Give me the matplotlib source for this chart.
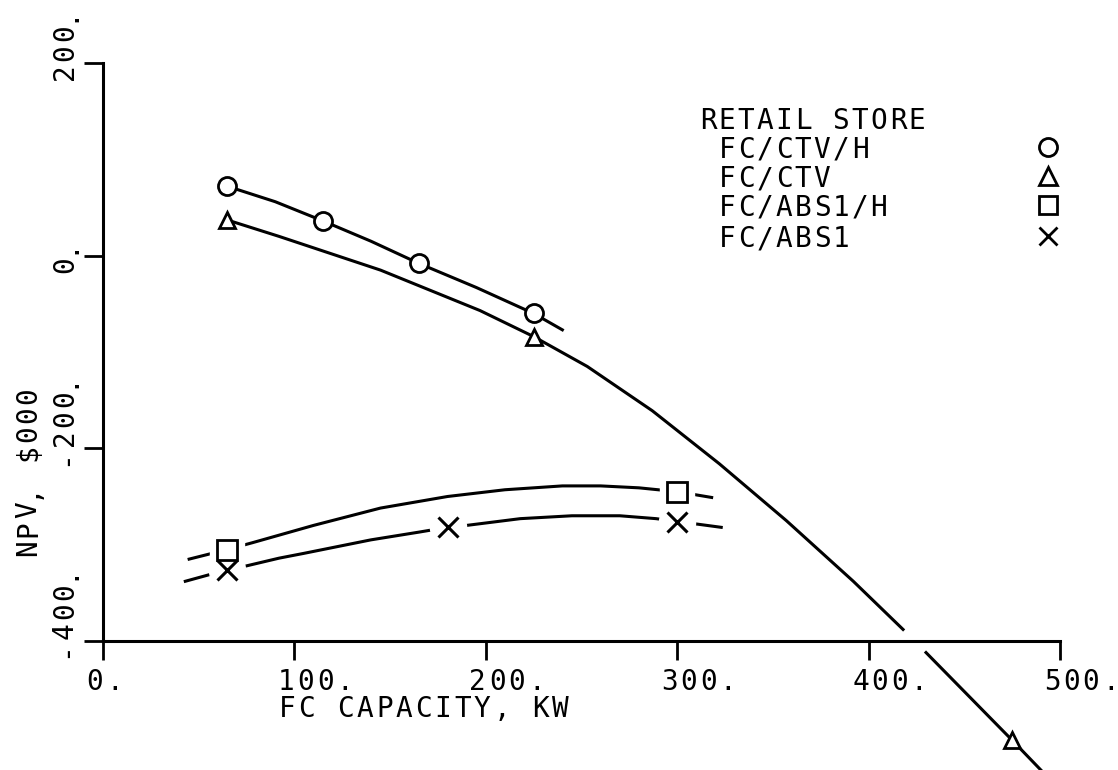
"""
Net present value vs fuel cell capacity, retail store cases
"""
import numpy as np
import matplotlib
matplotlib.use('Agg')
import matplotlib.pyplot as plt

# Plotted points for each system
kw_ctv_h = [65, 115, 165, 225]
npv_ctv_h = [72, 36, -8, -60]

kw_ctv = [65, 225, 475]
npv_ctv = [37, -84, -503]

kw_abs_h = [65, 300]
npv_abs_h = [-306, -245]

kw_abs = [65, 180, 300]
npv_abs = [-326, -282, -276]

# Faired curves through the points
fit_ctv_h_kw = [65, 90, 115, 140, 165, 195, 225, 240]
fit_ctv_h_npv = [72, 56, 36, 15, -8, -33, -60, -77]

fit_ctv_kw = [65, 92, 145, 197, 225, 253, 287, 322, 357, 392, 418, 430, 475, 491]
fit_ctv_npv = [37, 20, -15, -57, -84, -115, -161, -216, -275, -338, -388, -412, -503, -536]

fit_abs_h_kw = [45, 65, 78, 110, 145, 180, 210, 240, 260, 280, 300, 318]
fit_abs_h_npv = [-315, -305, -298, -280, -262, -250, -243, -239, -239, -241, -245, -251]

fit_abs_kw = [43, 65, 75, 92, 105, 140, 165, 180, 190, 218, 245, 270, 289, 300, 308, 323]
fit_abs_npv = [-338, -326, -322, -314, -309, -295, -287, -282, -280, -273, -270, -270, -273, -276, -278, -282]

x_ticks = [0, 100, 200, 300, 400, 500]
x_tick_labels = ['0.', '100.', '200.', '300.', '400.', '500.']
y_ticks = [-400, -200, 0, 200]
y_tick_labels = ['-400.', '-200.', '0.', '200.']

legend_title = 'RETAIL STORE'
legend_names = ['FC/CTV/H', 'FC/CTV', 'FC/ABS1/H', 'FC/ABS1']
legend_markers = ['o', '^', 's', 'x']

FONT = 'DejaVu Sans Mono'
LW = 2.2

fig = plt.figure(figsize=(11.18, 7.70), dpi=100)
ax = fig.add_axes([103 / 1118, 1 - 641 / 770, 957 / 1118, 578 / 770])
ax.set_xlim(0, 500)
ax.set_ylim(-400, 200)


def lettering(s, xy, coords, offset=(0, 0), size=20, pitch=19.5, vertical=False):
    """Plotter-style text: one character per fixed-pitch cell."""
    for i, ch in enumerate(s):
        if ch == ' ':
            continue
        if vertical:
            off = (offset[0], offset[1] + i * pitch)
        else:
            off = (offset[0] + i * pitch, offset[1])
        ax.annotate(ch, xy=xy, xycoords=coords, xytext=off, textcoords='offset pixels',
                    ha='center', va='center_baseline', rotation=90 if vertical else 0,
                    rotation_mode='anchor', fontsize=size, family=FONT, annotation_clip=False)


# curves
ax.plot(fit_ctv_h_kw, fit_ctv_h_npv, color='black', lw=LW, zorder=2)

# the FC/CTV curve runs off the bottom of the grid and is broken where it crosses the axis
fit_ctv_kw = np.array(fit_ctv_kw)
fit_ctv_npv = np.array(fit_ctv_npv)
upper = fit_ctv_npv > -400
ax.plot(fit_ctv_kw[upper], fit_ctv_npv[upper], color='black', lw=LW, zorder=2, clip_on=False)
ax.plot(fit_ctv_kw[~upper], fit_ctv_npv[~upper], color='black', lw=LW, zorder=2, clip_on=False)

ax.plot(fit_abs_h_kw, fit_abs_h_npv, color='black', lw=LW, zorder=2)
ax.plot(fit_abs_kw, fit_abs_npv, color='black', lw=LW, zorder=2)

# white pads so the ABS curves stop short of their symbols
ax.plot(kw_abs_h, npv_abs_h, ls='none', marker='s', ms=24, mfc='white', mec='white', zorder=3)
ax.plot(kw_abs, npv_abs, ls='none', marker='o', ms=26, mfc='white', mec='white', zorder=3)

# symbols
ax.plot(kw_ctv_h, npv_ctv_h, ls='none', marker='o', ms=13, mfc='white', mec='black', mew=2, zorder=4)
ax.plot(kw_ctv, npv_ctv, ls='none', marker='^', ms=12, mfc='white', mec='black', mew=2, zorder=4, clip_on=False)
ax.plot(kw_abs_h, npv_abs_h, ls='none', marker='s', ms=14, mfc='white', mec='black', mew=2, zorder=4)
ax.plot(kw_abs, npv_abs, ls='none', marker='x', ms=15, mec='black', mew=2.2, zorder=4)

# axes drawn as plain lines with outward ticks
for side in ['top', 'right']:
    ax.spines[side].set_visible(False)
for side in ['left', 'bottom']:
    ax.spines[side].set_linewidth(2.2)
ax.set_xticks(x_ticks)
ax.set_yticks(y_ticks)
ax.tick_params(direction='out', length=14, width=2, labelbottom=False, labelleft=False)

for v, lbl in zip(x_ticks, x_tick_labels):
    lettering(lbl, (v, -400), 'data', offset=(-8, -38))
for v, lbl in zip(y_ticks, y_tick_labels):
    lettering(lbl, (0, v), 'data', offset=(-41, -9), vertical=True)

lettering('FC CAPACITY, KW', (287 / 1118, 1 - 706 / 770), 'figure fraction')
lettering('NPV, $000', (25 / 1118, 1 - 548 / 770), 'figure fraction', vertical=True, pitch=19)

# key in the upper right
lettering(legend_title, (708 / 1118, 1 - 118 / 770), 'figure fraction', size=20, pitch=19)
row_y = [147, 176, 205, 236]
for name, mk, y in zip(legend_names, legend_markers, row_y):
    lettering(name, (727 / 1118, 1 - y / 770), 'figure fraction', size=20, pitch=19)
    ax.plot([1048 / 1118], [1 - y / 770], transform=fig.transFigure, ls='none', marker=mk,
            ms=13, mfc='white', mec='black', mew=2, clip_on=False)

fig.savefig('out.png', dpi=100, facecolor='white')
